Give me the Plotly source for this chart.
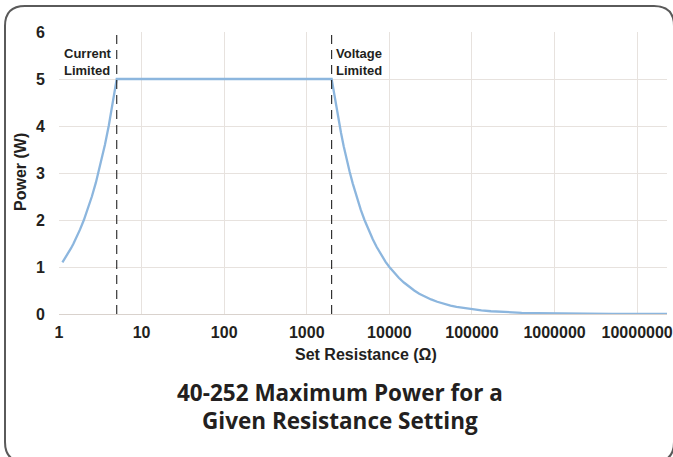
import math
import plotly.graph_objects as go

# ---- data ----
resistance = [1.1, 1.2, 1.3, 1.4, 1.5, 1.6, 1.8, 2.0, 2.2, 2.5, 2.8, 3.2, 3.6, 4.0, 4.5, 5,
              2000, 2200, 2400, 2600, 2800, 3000, 3300, 3600, 4000, 4500, 5000, 5600,
              6300, 7000, 8000, 9000, 10000, 11500, 13000, 15000, 17500, 20000,
              23000, 27000, 32000, 38000, 45000, 55000, 65000, 80000, 100000,
              130000, 170000, 220000, 300000, 400000, 600000, 1000000, 2000000,
              5000000, 10000000, 23000000]
power = [1.1, 1.2, 1.3, 1.4, 1.5, 1.6, 1.8, 2.0, 2.2, 2.5, 2.8, 3.2, 3.6, 4.0, 4.5, 5.0,
         5.0, 4.55, 4.17, 3.85, 3.57, 3.33, 3.03, 2.78, 2.5, 2.22, 2.0, 1.79,
         1.59, 1.43, 1.25, 1.11, 1.0, 0.87, 0.77, 0.67, 0.57, 0.5,
         0.43, 0.37, 0.31, 0.26, 0.22, 0.18, 0.15, 0.125, 0.1,
         0.077, 0.059, 0.045, 0.033, 0.025, 0.017, 0.01, 0.005,
         0.002, 0.001, 0.0004]
current_limit_r = 5
voltage_limit_r = 2000
y_span = [0, 6]
x_tick_vals = [1, 10, 100, 1000, 10000, 100000, 1000000, 10000000]
x_tick_text = ["1", "10", "100", "1000", "10000", "100000", "1000000", "10000000"]
title_lines = ["40-252 Maximum Power for a", "Given Resistance Setting"]

# ---- layout geometry (pixels) ----
W, H = 673, 457
ML, MR, MT, MB = 59, 6, 32, 143
PW, PH = W - ML - MR, H - MT - MB


def px(X):
    return (X - ML) / PW


def py(Y):
    return (H - MB - Y) / PH


TXT = "#231f20"
ARIAL = "Liberation Sans, Arial, sans-serif"

fig = go.Figure()
fig.add_trace(go.Scatter(x=resistance, y=power, mode="lines",
                         line=dict(color="#8cb6de", width=2.3),
                         hoverinfo="skip", showlegend=False))
for r in (current_limit_r, voltage_limit_r):
    fig.add_trace(go.Scatter(x=[r, r], y=y_span, mode="lines",
                             line=dict(color="#222222", width=1.1, dash="9px,6px"),
                             hoverinfo="skip", showlegend=False))

grid = "#e7e2de"
fig.update_xaxes(type="log", range=[0, math.log10(23000000)],
                 tickvals=x_tick_vals, ticktext=x_tick_text,
                 showgrid=True, gridcolor=grid, gridwidth=1,
                 ticks="outside", ticklen=4, tickcolor="rgba(0,0,0,0)",
                 tickfont=dict(family=ARIAL, size=16, color=TXT, weight="bold"),
                 showline=False, zeroline=False, fixedrange=True, automargin=False)
fig.update_yaxes(range=y_span, dtick=1, showgrid=True, gridcolor=grid, gridwidth=1,
                 ticks="outside", ticklen=10, tickcolor="rgba(0,0,0,0)",
                 tickfont=dict(family=ARIAL, size=16, color=TXT, weight="bold"),
                 zeroline=True, zerolinecolor="#d9d2cd", zerolinewidth=1.2,
                 showline=False, fixedrange=True, automargin=False)

title_font = dict(family="Open Sans, sans-serif", size=22.5, color=TXT, weight="bold")
annotations = [
    dict(text="Set Resistance (Ω)", xref="paper", yref="paper",
         x=px(365.5), y=py(344), xanchor="center", yanchor="top", showarrow=False,
         font=dict(family=ARIAL, size=16, color=TXT, weight="bold")),
    dict(text="Power (W)", xref="paper", yref="paper", textangle=-90,
         x=px(20), y=py(172), xanchor="center", yanchor="middle", showarrow=False,
         font=dict(family=ARIAL, size=16, color=TXT, weight="bold")),
    dict(text=title_lines[0], xref="paper", yref="paper", x=px(340), y=py(392.5),
         xanchor="center", yanchor="middle", showarrow=False, font=title_font),
    dict(text=title_lines[1], xref="paper", yref="paper", x=px(340), y=py(420.5),
         xanchor="center", yanchor="middle", showarrow=False, font=title_font),
    dict(text="Current<br>Limited", xref="x", yref="paper",
         x=math.log10(current_limit_r), y=py(44), xanchor="right", yanchor="top",
         xshift=-3, align="left", showarrow=False,
         font=dict(family=ARIAL, size=13, color=TXT, weight="bold")),
    dict(text="Voltage<br>Limited", xref="x", yref="paper",
         x=math.log10(voltage_limit_r), y=py(44), xanchor="left", yanchor="top",
         xshift=2, align="left", showarrow=False,
         font=dict(family=ARIAL, size=13, color=TXT, weight="bold")),
]

# rounded card border
L, T, R, B, rad = 5, 6, 674, 462, 20
path = (f"M {px(L)},{py(T + rad)} Q {px(L)},{py(T)} {px(L + rad)},{py(T)} "
        f"L {px(R - rad)},{py(T)} Q {px(R)},{py(T)} {px(R)},{py(T + rad)} "
        f"L {px(R)},{py(B - rad)} Q {px(R)},{py(B)} {px(R - rad)},{py(B)} "
        f"L {px(L + rad)},{py(B)} Q {px(L)},{py(B)} {px(L)},{py(B - rad)} Z")
shapes = [dict(type="path", xref="paper", yref="paper", path=path,
               line=dict(color="#5a5a5a", width=2), fillcolor="rgba(0,0,0,0)")]

fig.update_layout(width=W, height=H, margin=dict(l=ML, r=MR, t=MT, b=MB),
                  paper_bgcolor="white", plot_bgcolor="white",
                  annotations=annotations, shapes=shapes, showlegend=False)

fig.write_html("out.html", config={"displayModeBar": False},
               post_script="document.body.style.margin='0';document.body.style.overflow='hidden';")
